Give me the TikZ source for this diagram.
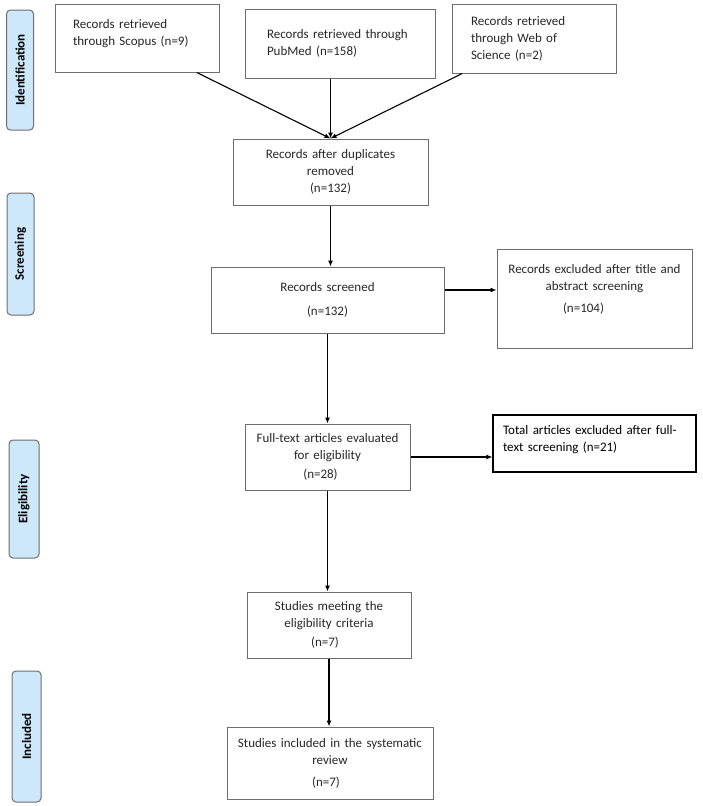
\documentclass[tikz,border=0pt]{standalone}
\usepackage{fontspec}
\setmainfont{Carlito}
\usetikzlibrary{positioning,arrows.meta}
\definecolor{sidefill}{RGB}{205,232,250}
\definecolor{boxline}{RGB}{110,110,110}

\begin{document}
\begin{tikzpicture}[x=1pt,y=-1pt,
  box/.style={draw=boxline,line width=1pt,inner sep=0pt,text=black!85,
    font=\fontsize{13}{17}\selectfont,align=center},
  phase/.style={draw=boxline,fill=sidefill,rounded corners=4pt,line width=1pt,
    rotate=90,inner sep=0pt,font=\fontsize{13}{15}\selectfont\bfseries},
  arr/.style={-{Latex[length=6pt,width=5pt]},line width=1.1pt}]
  \useasboundingbox (0,0) rectangle (702,806);

  % phases
  \node[phase,minimum width=120pt,minimum height=27pt] (ident) at (20,70) {Identification};
  \node[phase,minimum width=122pt,minimum height=27pt] (screen) at (20.5,254) {Screening};
  \node[phase,minimum width=118pt,minimum height=30pt] (elig) at (24,499) {Eligibility};
  \node[phase,minimum width=131pt,minimum height=29pt] (incl) at (26.5,736.5) {Included};

  % identification
  \node[box,minimum width=164pt,minimum height=68pt,text width=128pt,align=left] (scopus) at (137,38)
    {Records retrieved\\through Scopus (n=9)\\[-6pt]\mbox{}};
  \node[box,minimum width=190pt,minimum height=69pt,text width=146pt,align=left] (pubmed) at (340,43.5)
    {Records retrieved through\\PubMed (n=158)};
  \node[box,minimum width=164pt,minimum height=69pt,text width=126pt,align=left] (wos) at (534,38.5)
    {Records retrieved\\through Web of\\Science (n=2)};
  \node[box,minimum width=195pt,minimum height=66pt,text width=180pt] (dup) at (330.5,172)
    {Records after duplicates\\removed\\(n=132)};

  % screening
  \node[box,minimum width=233pt,minimum height=66pt,text width=200pt] (screened) at (327.5,300)
    {Records screened\\[7pt](n=132)};
  \node[box,minimum width=195pt,minimum height=99pt,text width=185pt] (excl1) at (594.5,298.5)
    {Records excluded after title and\\abstract screening\\[5pt]\hspace*{-22pt}(n=104)\\[4pt]\mbox{}};

  % eligibility
  \node[box,minimum width=165pt,minimum height=66pt,text width=155pt] (full) at (327.5,457)
    {Full-text articles evaluated\\for eligibility\\[2pt]\hspace*{-14pt}(n=28)};
  \node[box,draw=black,text=black,line width=1.2pt,minimum width=203pt,minimum height=57pt,
    text width=183pt,align=left] (excl2) at (594.5,443.5)
    {Total articles excluded after full-\\text screening (n=21)\\[-6pt]\mbox{}};
  \node[box,minimum width=164pt,minimum height=66pt,text width=150pt] (meet) at (329,625)
    {Studies meeting the\\eligibility criteria\\[2pt]\hspace*{-8pt}(n=7)};

  % included
  \node[box,minimum width=206pt,minimum height=72pt,text width=195pt] (review) at (330,763)
    {Studies included in the systematic\\review\\[5pt]\hspace*{-8pt}(n=7)};

  % connectors
  \draw[arr] (scopus.-30) -- (dup.north);
  \draw[arr] (dup.north |- pubmed.south) -- (dup.north);
  \draw[arr] (wos.-154) -- (dup.north);
  \draw[arr] (dup.south) -- (dup.south |- screened.north);
  \draw[arr] ([yshift=10pt]screened.east) -- ([yshift=10pt]screened.east -| excl1.west);
  \draw[arr] (screened.south) -- (screened.south |- full.north);
  \draw[arr] (full.east) -- (full.east -| excl2.west);
  \draw[arr] (full.south) -- (full.south |- meet.north);
  \draw[arr] (meet.south) -- (meet.south |- review.north);
\end{tikzpicture}
\end{document}
